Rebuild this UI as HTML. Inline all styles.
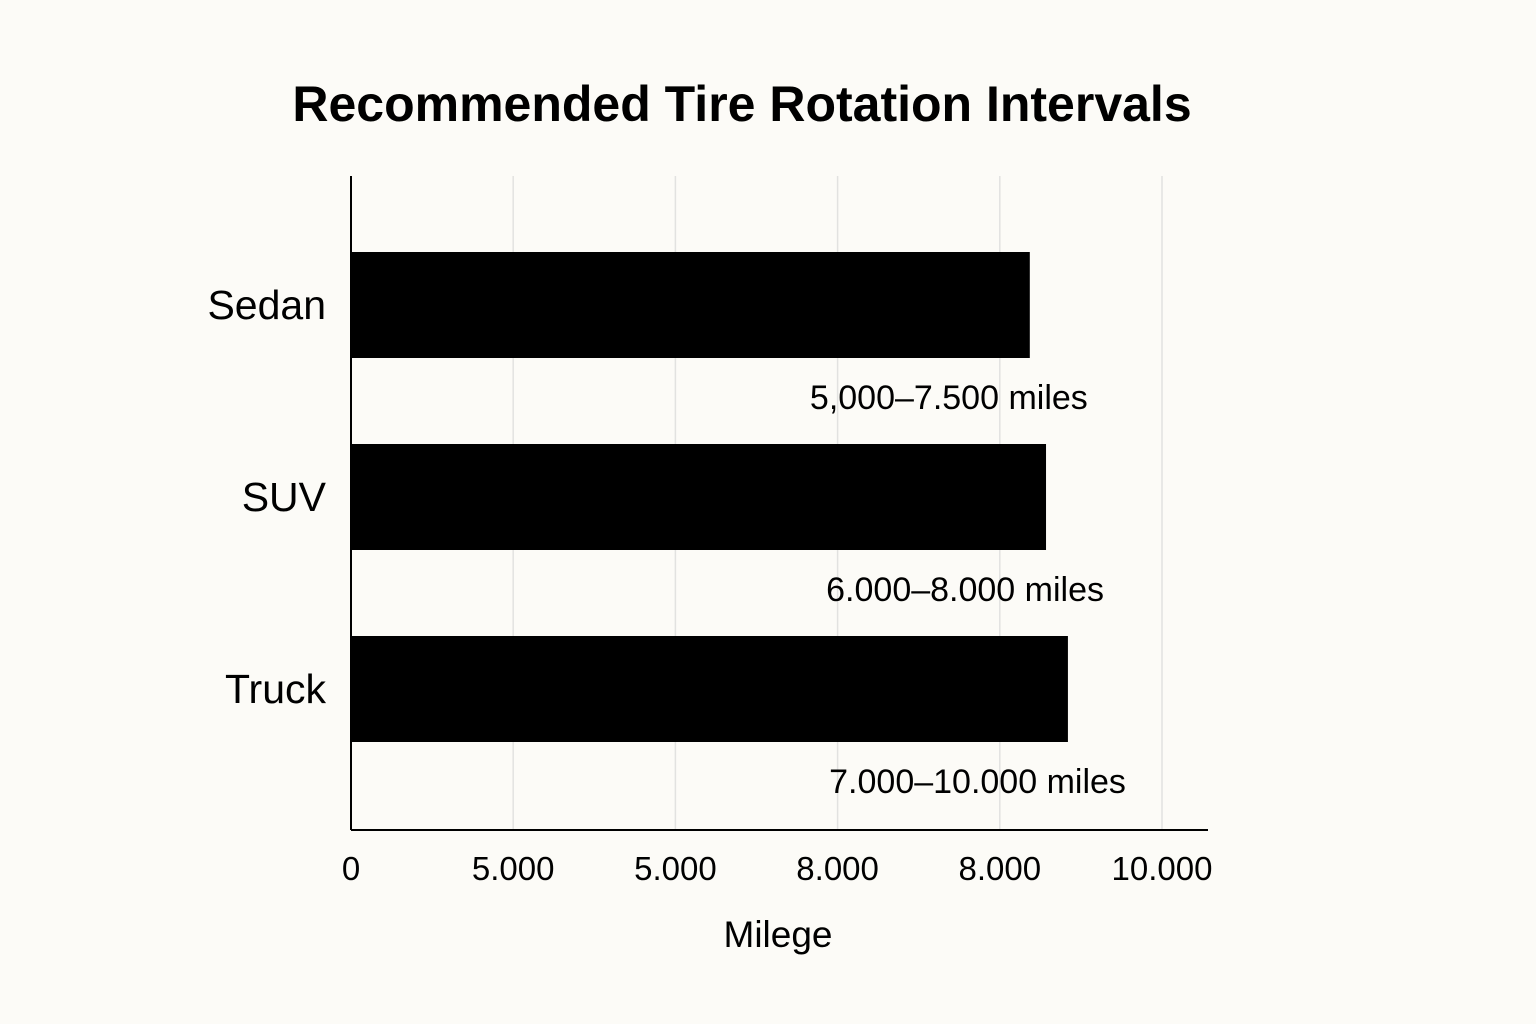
<!DOCTYPE html>
<html><head><meta charset="utf-8"><style>
html,body{margin:0;padding:0;background:#fcfbf7;}
svg{display:block;font-family:"Liberation Sans",sans-serif;}
</style></head><body>
<svg id="chart" width="1536" height="1024" viewBox="0 0 1536 1024">
<rect width="1536" height="1024" fill="#fcfbf7"/>
<text x="742" y="121" text-anchor="middle" font-size="50" font-weight="bold" fill="#000">Recommended Tire Rotation Intervals</text>
<g id="grid"></g>
<g id="bars"></g>
<g id="labels"></g>
<line x1="351" y1="176" x2="351" y2="830" stroke="#000" stroke-width="2"/>
<line x1="351" y1="830" x2="1208" y2="830" stroke="#000" stroke-width="2"/>
<text x="778" y="947" text-anchor="middle" font-size="37" fill="#000">Milege</text>
</svg>
<script>
const categories = ["Sedan", "SUV", "Truck"];
const values = [8370, 8570, 8840];
const valueLabels = ["5,000–7.500 miles", "6.000–8.000 miles", "7.000–10.000 miles"];
const tickValues = [0, 2000, 4000, 6000, 8000, 10000];
const tickLabels = ["0", "5.000", "5.000", "8.000", "8.000", "10.000"];

const NS = "http://www.w3.org/2000/svg";
const x0 = 351, pxPer = 811 / 10000;
const xScale = v => x0 + v * pxPer;
const bandTop = 252, bandStep = 192, barH = 106;
const yScale = i => bandTop + i * bandStep;
function mk(tag, attrs, parent) {
  const e = document.createElementNS(NS, tag);
  for (const k in attrs) e.setAttribute(k, attrs[k]);
  parent.appendChild(e);
  return e;
}
const grid = document.getElementById('grid');
const bars = document.getElementById('bars');
const labels = document.getElementById('labels');
tickValues.forEach((t, i) => {
  const x = xScale(t);
  if (i > 0) {
    const l = mk('line', {x1: x, y1: 176, x2: x, y2: 830, stroke: '#e2e2e0', 'stroke-width': 1.5}, grid);
    
    
  }
  const tx = mk('text', {x: x, y: 880, 'text-anchor': 'middle', 'font-size': 33, fill: '#000'}, labels);
  tx.textContent = tickLabels[i];
  
  
});
categories.forEach((c, i) => {
  const y = yScale(i);
  const r = mk('rect', {x: x0, y: y, width: xScale(values[i]) - x0, height: barH, fill: '#000'}, bars);
  
  
  const cl = mk('text', {x: 326, y: y + barH / 2 + 14, 'text-anchor': 'end', 'font-size': 41, fill: '#000'}, labels);
  cl.textContent = c;
  
  
  const vl = mk('text', {x: xScale(values[i]) + 58, y: y + barH + 51, 'text-anchor': 'end', 'font-size': 34, fill: '#000'}, labels);
  vl.textContent = valueLabels[i];
  
  
});
</script>
</body></html>
